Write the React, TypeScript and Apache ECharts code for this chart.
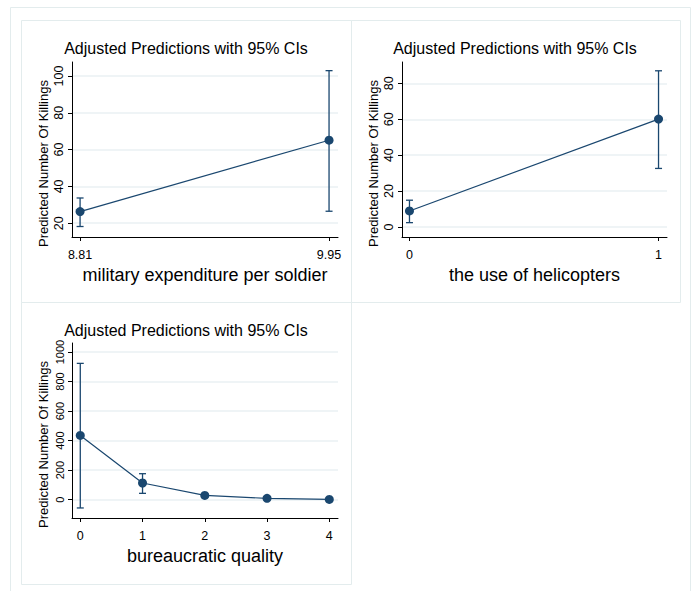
import React, { useEffect, useRef } from "react";
import * as echarts from "echarts";

// ---- data ----
const milExpX = [8.81, 9.95];
const milExpPred = [26.3, 65.1];
const milExpLo = [18.2, 26.5];
const milExpHi = [33.7, 102.9];
const milExpXTicks = [8.81, 9.95];
const milExpYTicks = [20, 40, 60, 80, 100];

const heliX = [0, 1];
const heliPred = [8.9, 60.1];
const heliLo = [2.4, 32.6];
const heliHi = [14.9, 87.0];
const heliXTicks = [0, 1];
const heliYTicks = [0, 20, 40, 60, 80];

const bqX = [0, 1, 2, 3, 4];
const bqPred = [435, 113, 29, 9, 2];
const bqLo = [-56, 43, 16, 3, 0];
const bqHi = [923, 176, 42, 15, 5];
const bqXTicks = [0, 1, 2, 3, 4];
const bqYTicks = [0, 200, 400, 600, 800, 1000];

const titleText = "Adjusted Predictions with 95% CIs";
const yName = "Predicted Number Of Killings";
const xNames = ["military expenditure per soldier", "the use of helicopters", "bureaucratic quality"];

const NAVY = "#1a476f";
const GRIDC = "#eaf1f3";
const FRAMEC = "#e3eced";
const FONT = "Liberation Sans, Arial, sans-serif";

type Panel = {
  x: number[]; pred: number[]; lo: number[]; hi: number[];
  xTicks: number[]; yTicks: number[];
  xMin: number; xMax: number; yMin: number; yMax: number;
  grid: { left: number; top: number; width: number; height: number };
  xName: string; yLabelSize: number;
};

const panels: Panel[] = [
  { x: milExpX, pred: milExpPred, lo: milExpLo, hi: milExpHi, xTicks: milExpXTicks, yTicks: milExpYTicks,
    xMin: 8.773, xMax: 9.991, yMin: 12.5, yMax: 107.6,
    grid: { left: 72, top: 62, width: 266, height: 175 }, xName: xNames[0], yLabelSize: 12.5 },
  { x: heliX, pred: heliPred, lo: heliLo, hi: heliHi, xTicks: heliXTicks, yTicks: heliYTicks,
    xMin: -0.03, xMax: 1.034, yMin: -5.6, yMax: 91.9,
    grid: { left: 402, top: 62, width: 265, height: 175 }, xName: xNames[1], yLabelSize: 12.5 },
  { x: bqX, pred: bqPred, lo: bqLo, hi: bqHi, xTicks: bqXTicks, yTicks: bqYTicks,
    xMin: -0.133, xMax: 4.14, yMin: -124, yMax: 1061,
    grid: { left: 72, top: 343, width: 266, height: 175 }, xName: xNames[2], yLabelSize: 11 },
];

const frames = [
  { x: 21, y: 20, w: 330, h: 282 },
  { x: 351, y: 20, w: 329, h: 282 },
  { x: 21, y: 302, w: 330, h: 282 },
];
const titlePos = [
  { x: 186, y: 48 },
  { x: 515, y: 48 },
  { x: 186, y: 330 },
];

export default function App() {
  const ref = useRef<HTMLDivElement>(null);
  useEffect(() => {
    if (!ref.current) return;
    const chart = echarts.init(ref.current, undefined, { renderer: "svg" });

    const grid: any[] = [];
    const xAxis: any[] = [];
    const yAxis: any[] = [];
    const series: any[] = [];

    panels.forEach((p, i) => {
      grid.push({ ...p.grid, containLabel: false });
      xAxis.push({
        type: "value", gridIndex: i, min: p.xMin, max: p.xMax,
        name: p.xName, nameLocation: "middle", nameGap: 29,
        nameTextStyle: { fontSize: 18, color: "#000", fontFamily: FONT },
        axisLine: { show: true, onZero: false, lineStyle: { color: "#000", width: 1 } },
        axisTick: { show: true, length: 4, customValues: p.xTicks, lineStyle: { color: "#000" } },
        axisLabel: { customValues: p.xTicks, fontSize: 12.5, color: "#000", margin: 11, fontFamily: FONT,
          formatter: (v: number) => String(v) },
        splitLine: { show: false },
      });
      yAxis.push({
        type: "value", gridIndex: i, min: p.yMin, max: p.yMax,
        name: yName, nameLocation: "middle", nameGap: 22,
        nameTextStyle: { fontSize: 13, color: "#000", fontFamily: FONT, padding: [0, 28, 0, 0] },
        axisLine: { show: true, onZero: false, lineStyle: { color: "#000", width: 1 } },
        axisTick: { show: true, length: 4, customValues: p.yTicks, lineStyle: { color: "#000" } },
        axisLabel: { customValues: p.yTicks, fontSize: p.yLabelSize, color: "#000", margin: 7, rotate: 90, fontFamily: FONT,
          formatter: (v: number) => String(v) },
        splitLine: { show: true, lineStyle: { color: GRIDC, width: 1.5 } },
      });
      const ciData = p.x.map((xv, k) => [xv, p.lo[k], p.hi[k]]);
      series.push({
        type: "custom", xAxisIndex: i, yAxisIndex: i, data: ciData, z: 2,
        encode: { x: 0, y: [1, 2] },
        renderItem: (params: any, api: any) => {
          const xv = api.value(0), lo = api.value(1), hi = api.value(2);
          const a = api.coord([xv, lo]);
          const b = api.coord([xv, hi]);
          const w = 3.5;
          const st = { stroke: NAVY, lineWidth: 1.3 };
          return {
            type: "group",
            children: [
              { type: "line", shape: { x1: a[0], y1: a[1], x2: b[0], y2: b[1] }, style: st },
              { type: "line", shape: { x1: a[0] - w, y1: a[1], x2: a[0] + w, y2: a[1] }, style: st },
              { type: "line", shape: { x1: b[0] - w, y1: b[1], x2: b[0] + w, y2: b[1] }, style: st },
            ],
          };
        },
      });
      series.push({
        type: "line", xAxisIndex: i, yAxisIndex: i, z: 3,
        data: p.x.map((xv, k) => [xv, p.pred[k]]),
        symbol: "circle", symbolSize: 9,
        lineStyle: { color: NAVY, width: 1.2 },
        itemStyle: { color: NAVY },
      });
    });

    const graphic: any[] = [
      { type: "rect", shape: { x: 10.5, y: 7.5, width: 680, height: 600 }, style: { fill: "none", stroke: FRAMEC, lineWidth: 1 }, z: -10 },
      ...frames.map((f) => ({
        type: "rect", shape: { x: f.x + 0.5, y: f.y + 0.5, width: f.w, height: f.h },
        style: { fill: "none", stroke: FRAMEC, lineWidth: 1 }, z: -10,
      })),
      ...titlePos.map((t) => ({
        type: "text", x: t.x, y: t.y,
        style: { text: titleText, fontSize: 16, fill: "#000", align: "center", verticalAlign: "middle", fontFamily: FONT },
      })),
    ];

    chart.setOption({
      animation: false,
      backgroundColor: "#fff",
      textStyle: { fontFamily: FONT },
      grid, xAxis, yAxis, series, graphic,
    });
    return () => chart.dispose();
  }, []);
  return <div ref={ref} style={{ position: "absolute", left: 0, top: 0, width: 697, height: 591 }} />;
}
